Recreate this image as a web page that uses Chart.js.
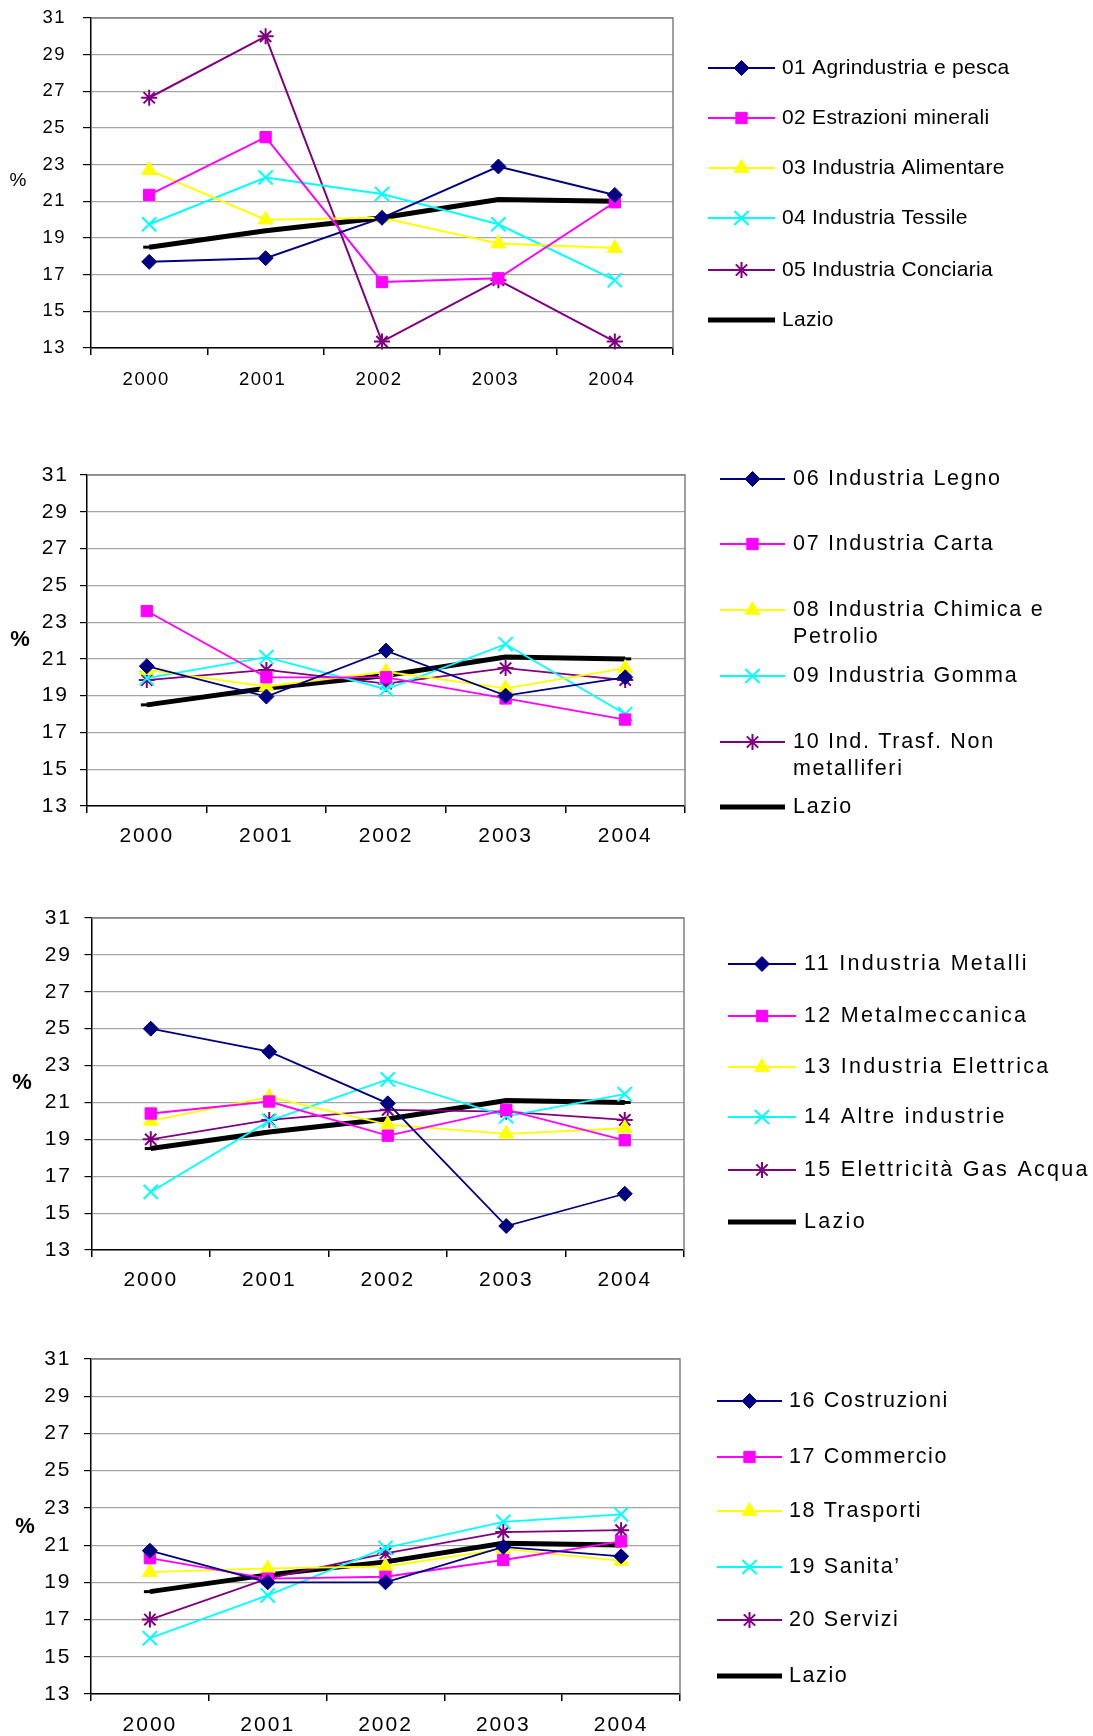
<!DOCTYPE html>
<html>
<head>
<meta charset="utf-8">
<script src="https://cdn.jsdelivr.net/npm/chart.js@4.4.1/dist/chart.umd.min.js"></script>
<style>
  html, body { margin: 0; padding: 0; background: #fff; }
  body { width: 1093px; height: 1736px; position: relative; overflow: hidden; }
  canvas { position: absolute; left: 0; }
</style>
</head>
<body>
<canvas id="c1" width="1093" height="420" style="top:-20px;width:1093px;height:420px"></canvas>
<canvas id="c2" width="1093" height="420" style="top:440px;width:1093px;height:420px"></canvas>
<canvas id="c3" width="1093" height="420" style="top:880px;width:1093px;height:420px"></canvas>
<canvas id="c4" width="1093" height="416" style="top:1320px;width:1093px;height:416px"></canvas>
<script>
// categories and axis range
const years = ['2000', '2001', '2002', '2003', '2004'];
const yMin = 13, yMax = 31, yStep = 2;

// regional average, same in every panel
const lazio = [18.5, 19.4, 20.1, 21.1, 21.0];

// panel 1
const c1Labels = ['01 Agrindustria e pesca', '02 Estrazioni minerali', '03 Industria Alimentare',
  '04 Industria Tessile', '05 Industria Conciaria', 'Lazio'];
const agrindustria = [17.7, 17.9, 20.1, 22.9, 21.35];
const estrazioni = [21.35, 24.5, 16.6, 16.8, 20.95];
const alimentare = [22.7, 20.0, 20.1, 18.7, 18.45];
const tessile = [19.75, 22.3, 21.4, 19.75, 16.7];
const conciaria = [26.65, 30.0, 13.35, 16.7, 13.35];

// panel 2
const c2Labels = ['06 Industria Legno', '07 Industria Carta', '08 Industria Chimica e\nPetrolio',
  '09 Industria Gomma', '10 Ind. Trasf. Non\nmetalliferi', 'Lazio'];
const legno = [20.6, 18.95, 21.45, 19.0, 20.0];
const carta = [23.6, 20.0, 20.0, 18.85, 17.7];
const chimica = [20.4, 19.5, 20.3, 19.4, 20.5];
const gomma = [19.95, 21.1, 19.35, 21.8, 18.0];
const nonMetalliferi = [19.85, 20.4, 19.65, 20.5, 19.85];

// panel 3
const c3Labels = ['11 Industria Metalli', '12 Metalmeccanica', '13 Industria Elettrica',
  '14 Altre industrie', '15 Elettricità Gas Acqua', 'Lazio'];
const metalli = [25.0, 23.75, 20.95, 14.3, 16.05];
const metalmeccanica = [20.4, 21.05, 19.2, 20.6, 18.95];
const elettrica = [20.0, 21.3, 19.8, 19.3, 19.6];
const altre = [16.15, 20.0, 22.25, 20.25, 21.45];
const gasAcqua = [19.0, 20.05, 20.6, 20.5, 20.05];

// panel 4
const c4Labels = ['16 Costruzioni', '17 Commercio', '18 Trasporti', '19 Sanita’', '20 Servizi', 'Lazio'];
const costruzioni = [20.7, 19.0, 19.0, 20.9, 20.4];
const commercio = [20.3, 19.2, 19.3, 20.2, 21.2];
const trasporti = [19.55, 19.75, 19.85, 20.8, 20.15];
const sanita = [16.0, 18.3, 20.85, 22.25, 22.65];
const servizi = [17.0, 19.2, 20.55, 21.7, 21.8];

// series look (Excel defaults)
const colors = ['#000080', '#FF00FF', '#FFFF00', '#00FFFF', '#800080', '#000000'];
const markers = ['rectRot', 'rect', 'triangle', 'crossRot', 'star', 'line'];
const markerSize = [7.5, 8, 8.5, 10, 8, 6];

function makeDatasets(labels, seriesList, lineW) {
  return seriesList.map((vals, i) => {
    const isLazio = i === 5;
    return {
      label: labels[i].replace('\n', ' '),
      data: vals,
      borderColor: colors[i],
      backgroundColor: colors[i],
      borderWidth: isLazio ? 5 : lineW,
      pointStyle: markers[i],
      pointRadius: markerSize[i],
      pointBackgroundColor: colors[i],
      pointBorderColor: colors[i],
      pointBorderWidth: (i >= 3) ? (isLazio ? 3 : 2) : 1,
      tension: 0,
      clip: false,
      fill: false
    };
  });
}

// draws "%" and the legend at the right, Excel style
const sidePlugin = {
  id: 'side',
  beforeDraw(chart, args, o) {
    if ('letterSpacing' in chart.ctx) chart.ctx.letterSpacing = o.tickSpacing;
  },
  beforeDatasetsDraw(chart) {
    const { ctx, chartArea: a } = chart;
    ctx.save();
    ctx.strokeStyle = '#808080';
    ctx.lineWidth = 1.5;
    ctx.beginPath();
    ctx.moveTo(a.left, a.top);
    ctx.lineTo(a.right, a.top);
    ctx.lineTo(a.right, a.bottom);
    ctx.stroke();
    ctx.restore();
  },
  afterDraw(chart, args, o) {
    const ctx = chart.ctx;
    const top = o.canvasTop;
    ctx.save();
    if ('letterSpacing' in ctx) ctx.letterSpacing = '0px';
    ctx.fillStyle = '#000';
    ctx.textAlign = 'center';
    ctx.textBaseline = 'middle';
    ctx.font = o.pctFont;
    ctx.fillText('%', o.pctX, o.pctY - top);

    ctx.textAlign = 'left';
    ctx.font = o.font;
    if ('letterSpacing' in ctx) ctx.letterSpacing = o.spacing;
    chart.data.datasets.forEach((ds, i) => {
      const y = o.rows[i] - top;
      ctx.strokeStyle = ds.borderColor;
      ctx.lineWidth = ds.borderWidth;
      ctx.beginPath();
      ctx.moveTo(o.x1, y);
      ctx.lineTo(o.x2, y);
      ctx.stroke();
      ctx.fillStyle = ds.pointBackgroundColor;
      ctx.strokeStyle = ds.pointBorderColor;
      ctx.lineWidth = ds.pointBorderWidth;
      Chart.helpers.drawPoint(ctx, {
        pointStyle: ds.pointStyle, radius: ds.pointRadius, rotation: 0, borderWidth: ds.pointBorderWidth
      }, (o.x1 + o.x2) / 2, y);
      ctx.fillStyle = '#000';
      o.labels[i].split('\n').forEach((t, k) => ctx.fillText(t, o.tx, y + k * o.lh));
    });
    ctx.restore();
  }
};

function buildChart(id, labels, seriesList, g) {
  const tickFont = { family: 'Liberation Sans, Arial, sans-serif', size: g.tickSize };
  return new Chart(document.getElementById(id), {
    type: 'line',
    data: { labels: years, datasets: makeDatasets(labels, seriesList, g.lineW) },
    plugins: [sidePlugin],
    options: {
      responsive: false,
      animation: false,
      events: [],
      layout: { padding: { left: 0, top: g.plotTop - g.canvasTop, right: 1093 - g.plotRight, bottom: 0 } },
      plugins: {
        legend: { display: false },
        tooltip: { enabled: false },
        side: {
          canvasTop: g.canvasTop, labels: labels,
          rows: g.rows, x1: g.x1, x2: g.x2, tx: g.tx, lh: g.lh,
          font: g.legendFont, spacing: g.spacing, tickSpacing: g.tickSpacing,
          pctFont: g.pctFont, pctX: g.pctX, pctY: g.pctY
        }
      },
      scales: {
        x: {
          offset: true,
          grid: { display: true, drawOnChartArea: false, offset: true, tickLength: 7, color: '#000', lineWidth: 1.5 },
          border: { color: '#000', width: 1.5 },
          ticks: { color: '#000', font: tickFont, padding: g.xPad, maxRotation: 0, labelOffset: g.xShift },
          afterFit: s => { s.height = g.canvasTop + g.canvasH - g.plotBottom; }
        },
        y: {
          min: yMin, max: yMax,
          grid: { color: '#a6a6a6', lineWidth: 1.2, tickLength: g.yTick, tickColor: '#000' },
          border: { color: '#000', width: 1.5 },
          ticks: { stepSize: yStep, color: '#000', font: tickFont, padding: g.yPad },
          afterFit: s => { s.width = g.plotLeft; }
        }
      }
    }
  });
}

buildChart('c1', c1Labels, [agrindustria, estrazioni, alimentare, tessile, conciaria, lazio], {
  canvasTop: -20, canvasH: 420, plotLeft: 91, plotRight: 673, plotTop: 18, plotBottom: 348,
  tickSize: 18.5, xPad: 14, yPad: 17, yTick: 8, xShift: -3, lineW: 2, tickSpacing: '1.5px',
  rows: [68, 118, 168, 218, 270, 320], x1: 708, x2: 775, tx: 782, lh: 27,
  legendFont: '21px "Liberation Sans", Arial, sans-serif', spacing: '0.3px',
  pctFont: '19px "Liberation Sans", Arial, sans-serif', pctX: 18, pctY: 181
});

buildChart('c2', c2Labels, [legno, carta, chimica, gomma, nonMetalliferi, lazio], {
  canvasTop: 440, canvasH: 420, plotLeft: 87, plotRight: 685, plotTop: 475, plotBottom: 806,
  tickSize: 21, xPad: 11, yPad: 11, yTick: 7, xShift: 0, lineW: 1.8, tickSpacing: '2px',
  rows: [479, 544, 610, 676, 742, 807], x1: 720, x2: 785, tx: 793, lh: 27,
  legendFont: '21.5px "Liberation Sans", Arial, sans-serif', spacing: '1.7px',
  pctFont: 'bold 22px "Liberation Sans", Arial, sans-serif', pctX: 20, pctY: 640
});

buildChart('c3', c3Labels, [metalli, metalmeccanica, elettrica, altre, gasAcqua, lazio], {
  canvasTop: 880, canvasH: 420, plotLeft: 91.5, plotRight: 684, plotTop: 918, plotBottom: 1250,
  tickSize: 21, xPad: 11, yPad: 12.5, yTick: 7, xShift: 0, lineW: 1.8, tickSpacing: '2px',
  rows: [964, 1016, 1067, 1117, 1170, 1222], x1: 728, x2: 796, tx: 804, lh: 27,
  legendFont: '21.5px "Liberation Sans", Arial, sans-serif', spacing: '2.3px',
  pctFont: 'bold 22px "Liberation Sans", Arial, sans-serif', pctX: 22, pctY: 1083
});

buildChart('c4', c4Labels, [costruzioni, commercio, trasporti, sanita, servizi, lazio], {
  canvasTop: 1320, canvasH: 416, plotLeft: 91, plotRight: 680, plotTop: 1359, plotBottom: 1694,
  tickSize: 21, xPad: 12, yPad: 12.5, yTick: 7, xShift: 0, lineW: 1.8, tickSpacing: '2px',
  rows: [1401, 1457, 1511, 1567, 1620, 1676], x1: 717, x2: 782, tx: 789, lh: 27,
  legendFont: '21.5px "Liberation Sans", Arial, sans-serif', spacing: '1.6px',
  pctFont: 'bold 22px "Liberation Sans", Arial, sans-serif', pctX: 25, pctY: 1527
});
</script>
</body>
</html>
